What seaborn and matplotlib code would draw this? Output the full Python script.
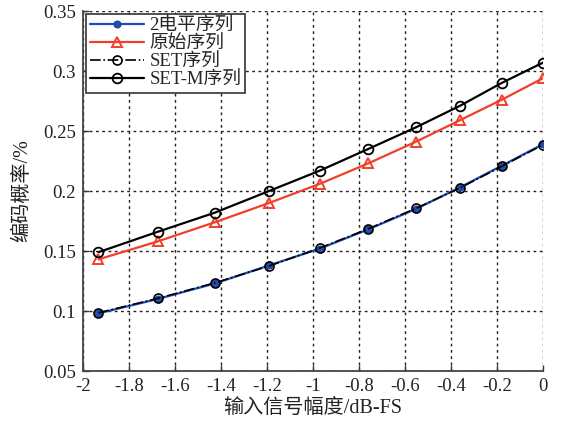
import numpy as np
import pandas as pd
import matplotlib
matplotlib.use("Agg")
import matplotlib.pyplot as plt
import seaborn as sns

# ---- data ----
x_db = [-1.933, -1.675, -1.426, -1.191, -0.970, -0.760, -0.553, -0.361, -0.180, 0.0]
two_level = [0.098, 0.110, 0.123, 0.138, 0.152, 0.168, 0.185, 0.203, 0.221, 0.239]
original = [0.143, 0.158, 0.174, 0.190, 0.206, 0.223, 0.241, 0.259, 0.276, 0.294]
set_seq = [0.0985, 0.1105, 0.1235, 0.1375, 0.1525, 0.1685, 0.1855, 0.2025, 0.2205, 0.2385]
set_m = [0.149, 0.166, 0.182, 0.200, 0.217, 0.235, 0.253, 0.271, 0.290, 0.307]
labels = ["2电平序列", "原始序列", "SET序列", "SET-M序列"]
xticks = [-2, -1.8, -1.6, -1.4, -1.2, -1, -0.8, -0.6, -0.4, -0.2, 0]
xticklabels = ["-2", "-1.8", "-1.6", "-1.4", "-1.2", "-1", "-0.8", "-0.6", "-0.4", "-0.2", "0"]
yticks = [0.05, 0.1, 0.15, 0.2, 0.25, 0.3, 0.35]
yticklabels = ["0.05", "0.1", "0.15", "0.2", "0.25", "0.3", "0.35"]
xlabel = "输入信号幅度/dB-FS"
ylabel = "编码概率/%"

sns.set_theme(style="white")
plt.rcParams['font.family'] = ['Liberation Serif', 'Noto Sans CJK SC', 'DejaVu Sans']
plt.rcParams['axes.unicode_minus'] = False

fig = plt.figure(figsize=(5.62, 4.21), dpi=100)
ax = fig.add_axes([83/562, 1 - 371/421, 460/562, 360/421])

sns.lineplot(x=x_db, y=two_level, ax=ax, color="#1f4fb5", lw=1.6, marker="o",
             markersize=5, markerfacecolor="#1f4fb5", markeredgecolor="#1a3f90",
             label=labels[0], zorder=3)
sns.lineplot(x=x_db, y=original, ax=ax, color="#f0402a", lw=1.6, marker="^",
             markersize=7.5, markerfacecolor="none", markeredgecolor="#f0402a",
             markeredgewidth=1.4, label=labels[1], zorder=3)
sns.lineplot(x=x_db, y=set_seq, ax=ax, color="black", lw=1.2, marker="o",
             markersize=6.5, markerfacecolor="none", markeredgecolor="black",
             markeredgewidth=1.2, label=labels[2], zorder=4)
ax.lines[-1].set_linestyle("-.")
sns.lineplot(x=x_db, y=set_m, ax=ax, color="black", lw=1.6, marker="o",
             markersize=7, markerfacecolor="none", markeredgecolor="black",
             markeredgewidth=1.3, label=labels[3], zorder=3)

ax.set_xlim(-2, 0)
ax.set_ylim(0.05, 0.35)
ax.set_xticks(xticks)
ax.set_xticklabels(xticklabels)
ax.set_yticks(yticks)
ax.set_yticklabels(yticklabels)
ax.tick_params(direction="in", length=4, width=1, colors="#333333",
               labelsize=13.5, labelcolor="#222222", bottom=True, left=True, pad=5)
ax.grid(True, linestyle=(0, (2, 2.5)), color="#222222", linewidth=1.0)
for s in ["top", "right"]:
    ax.spines[s].set_visible(False)
for s in ["left", "bottom"]:
    ax.spines[s].set_color("#444444")
    ax.spines[s].set_linewidth(1.3)

ax.set_xlabel(xlabel, fontsize=14.5, color="#222222", labelpad=3)
ax.set_ylabel(ylabel, fontsize=14.5, color="#222222", labelpad=8)

leg = ax.legend(loc="upper left", fontsize=13.5, frameon=True, fancybox=False,
                edgecolor="#333333", framealpha=1, borderaxespad=0.15,
                handlelength=2.9, labelspacing=0.05, borderpad=0.2,
                handletextpad=0.3)
leg.get_frame().set_linewidth(1.2)

fig.savefig("out.png", dpi=100)
